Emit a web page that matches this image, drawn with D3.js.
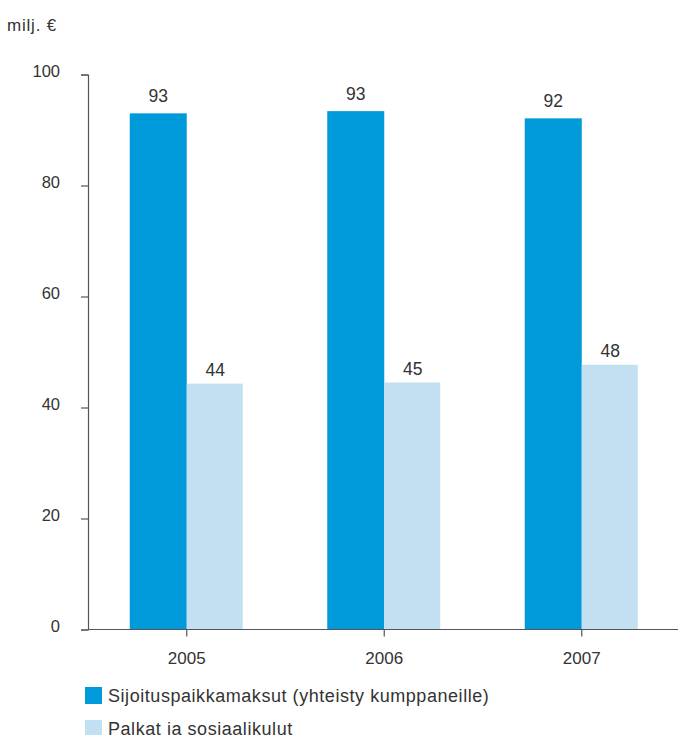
<!DOCTYPE html>
<html>
<head>
<meta charset="utf-8">
<script src="https://cdn.jsdelivr.net/npm/d3@7"></script>
<style>
  body { margin: 0; background: #fff; }
  text { font-family: "Liberation Sans", Arial, sans-serif; fill: #333; }
</style>
</head>
<body>
<div id="chart"></div>
<script>
const years = ["2005", "2006", "2007"];
const fees = [93.0, 93.4, 92.1];      // Sijoituspaikkamaksut
const wages = [44.3, 44.5, 47.7];     // Palkat ja sosiaalikulut
const yTicks = [0, 20, 40, 60, 80, 100];
const seriesNames = ["Sijoituspaikkamaksut (yhteisty kumppaneille)", "Palkat ja sosiaalikulut"];
const colors = ["#0099d9", "#c3e0f3"];

const width = 678;
const height = 735;
const barW = 57;

const svg = d3.select("#chart")
    .append("svg")
    .attr("width", width)
    .attr("height", height);

const x = d3.scaleBand()
    .domain(years)
    .range([88, 680.5]);

const y = d3.scaleLinear()
    .domain([0, 100])
    .range([629.5, 74.5]);

// y axis
const yAxis = svg.append("g")
    .attr("transform", "translate(88,0)")
    .call(d3.axisLeft(y).tickValues(yTicks).tickSize(7).tickPadding(21));
yAxis.select(".domain").attr("stroke", "#555").attr("stroke-width", 1.2);
yAxis.selectAll(".tick line").attr("stroke", "#555").attr("stroke-width", 1.2);
yAxis.selectAll(".tick text")
    .attr("font-size", 16.5)
    .attr("font-family", "Liberation Sans, Arial, sans-serif")
    .attr("fill", "#333")
    .attr("dy", "0.1em");

svg.append("text")
    .attr("x", 7)
    .attr("y", 31)
    .attr("font-size", 17)
    .attr("letter-spacing", 0.8)
    .text("milj. €");

// bars
const data = years.map((yr, i) => ({ year: yr, vals: [fees[i], wages[i]] }));
const groups = svg.selectAll(".yr")
    .data(data)
    .enter()
    .append("g")
    .attr("class", "yr");

groups.each(function(d) {
    const g = d3.select(this);
    const cx = x(d.year) + x.bandwidth() / 2;
    d.vals.forEach((v, k) => {
        const x0 = k === 0 ? cx - barW : cx;
        g.append("rect")
            .attr("x", x0)
            .attr("y", y(v))
            .attr("width", k === 0 ? barW : barW - 1)
            .attr("height", y(0) - y(v))
            .attr("fill", colors[k]);
        g.append("text")
            .attr("x", x0 + barW / 2)
            .attr("y", y(v) - (k === 0 ? 11 : 8))
            .attr("text-anchor", "middle")
            .attr("font-size", 17.5)
            .text(Math.round(v));
    });
});

// x axis
const xAxis = svg.append("g")
    .attr("transform", "translate(0,629.5)")
    .call(d3.axisBottom(x).tickSizeOuter(0).tickSize(7).tickPadding(15));
xAxis.select(".domain").attr("stroke", "#555").attr("stroke-width", 1.2)
    .attr("d", "M88,0H678");
xAxis.selectAll(".tick line").attr("stroke", "#555").attr("stroke-width", 1.2);
xAxis.selectAll(".tick text")
    .attr("font-size", 17)
    .attr("font-family", "Liberation Sans, Arial, sans-serif")
    .attr("fill", "#333");

// legend
const legend = svg.selectAll(".legend")
    .data(seriesNames)
    .enter()
    .append("g")
    .attr("class", "legend")
    .attr("transform", (d, i) => `translate(85,${687 + i * 33})`);
legend.append("rect")
    .attr("width", 17)
    .attr("height", 17)
    .attr("fill", (d, i) => colors[i]);
legend.append("text")
    .attr("x", 23)
    .attr("y", 15)
    .attr("font-size", 18)
    .attr("letter-spacing", 0.55)
    .text(d => d);
</script>
</body>
</html>
